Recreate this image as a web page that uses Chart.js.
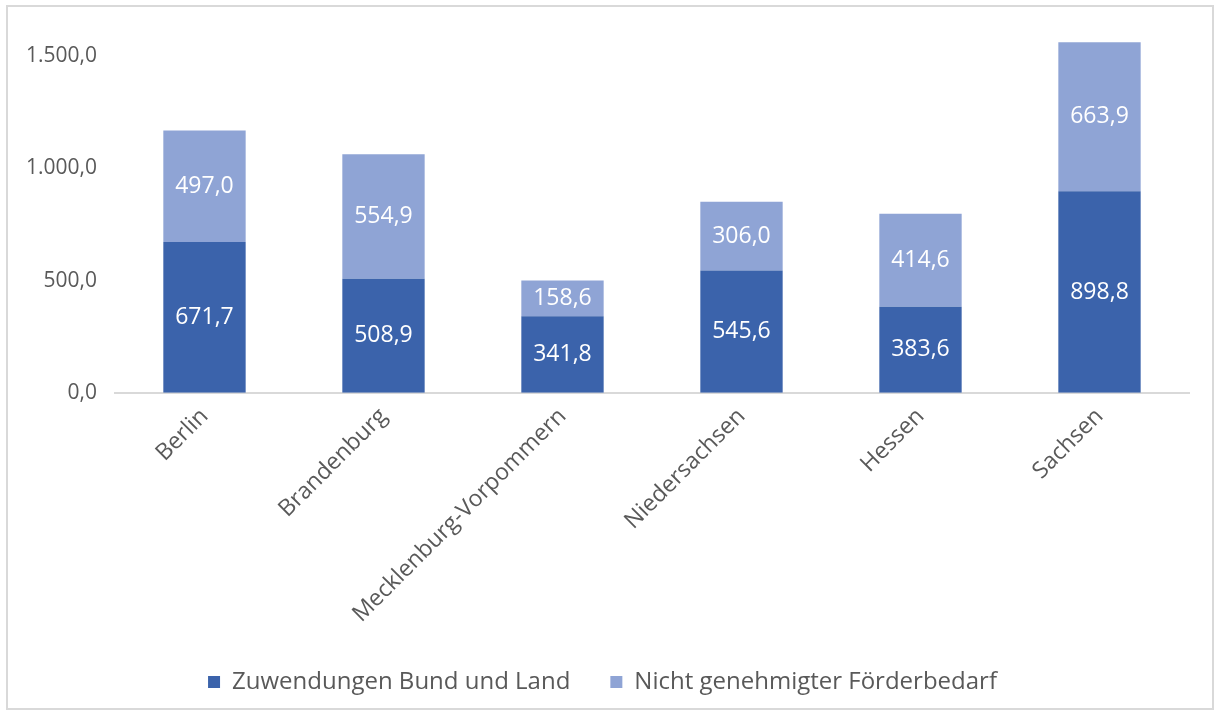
<!DOCTYPE html>
<html>
<head>
<meta charset="utf-8">
<script src="https://cdn.jsdelivr.net/npm/chart.js@4"></script>
<style>
  html, body { margin: 0; padding: 0; background: #fff; }
  #wrap { position: relative; width: 1217px; height: 713px; }
  #frame { position: absolute; left: 6px; top: 5px; width: 1204px; height: 701px; border: 2px solid #d9d9d9; pointer-events: none; }
</style>
</head>
<body>
<div id="wrap">
  <canvas id="chart" width="1217" height="713"></canvas>
  <div id="frame"></div>
</div>
<script>
const laender = ["Berlin", "Brandenburg", "Mecklenburg-Vorpommern", "Niedersachsen", "Hessen", "Sachsen"];
const zuwendungen = [671.7, 508.9, 341.8, 545.6, 383.6, 898.8];
const nichtGenehmigt = [497.0, 554.9, 158.6, 306.0, 414.6, 663.9];
const yTicks = [0, 500, 1000, 1500];

const textColor = "#595959";
const fontFamily = "'Open Sans', 'Noto Sans', sans-serif";

// 1.500,0 style
function formatDe(v) {
  const parts = v.toFixed(1).split(".");
  const intPart = parts[0].replace(/\B(?=(\d{3})+(?!\d))/g, ".");
  return intPart + "," + parts[1];
}

const barLabels = {
  id: "barLabels",
  afterDatasetsDraw(chart) {
    const ctx = chart.ctx;
    ctx.save();
    ctx.fillStyle = "#ffffff";
    ctx.font = "23px " + fontFamily;
    ctx.textAlign = "center";
    ctx.textBaseline = "middle";
    chart.data.datasets.forEach((ds, i) => {
      chart.getDatasetMeta(i).data.forEach((bar, j) => {
        const y = (bar.y + bar.base) / 2;
        ctx.fillText(formatDe(ds.data[j]), bar.x, y);
      });
    });
    ctx.restore();
  }
};

new Chart(document.getElementById("chart"), {
  type: "bar",
  data: {
    labels: laender,
    datasets: [
      {
        label: "Zuwendungen Bund und Land",
        data: zuwendungen,
        backgroundColor: "#3b63ab",
        barPercentage: 0.46,
        categoryPercentage: 1
      },
      {
        label: "Nicht genehmigter Förderbedarf",
        data: nichtGenehmigt,
        backgroundColor: "#8fa4d5",
        barPercentage: 0.46,
        categoryPercentage: 1
      }
    ]
  },
  options: {
    responsive: false,
    animation: false,
    layout: { padding: { left: 16, right: 28, top: 2, bottom: 9 } },
    plugins: {
      legend: {
        position: "bottom",
        labels: {
          color: textColor,
          font: { family: fontFamily, size: 24 },
          boxWidth: 12,
          boxHeight: 12,
          padding: 40
        }
      },
      tooltip: { enabled: false }
    },
    scales: {
      x: {
        stacked: true,
        grid: { display: false },
        border: { color: "#d9d9d9", width: 2 },
        ticks: {
          color: textColor,
          font: { family: fontFamily, size: 23 },
          minRotation: 45,
          maxRotation: 45,
          padding: 2
        }
      },
      y: {
        stacked: true,
        min: 0,
        max: 1650,
        grid: { display: false },
        border: { display: false },
        afterBuildTicks(axis) {
          axis.ticks = yTicks.map(v => ({ value: v }));
        },
        ticks: {
          color: textColor,
          font: { family: fontFamily, size: 21 },
          padding: 10,
          callback: v => formatDe(v)
        }
      }
    }
  },
  plugins: [barLabels]
});
</script>
</body>
</html>
